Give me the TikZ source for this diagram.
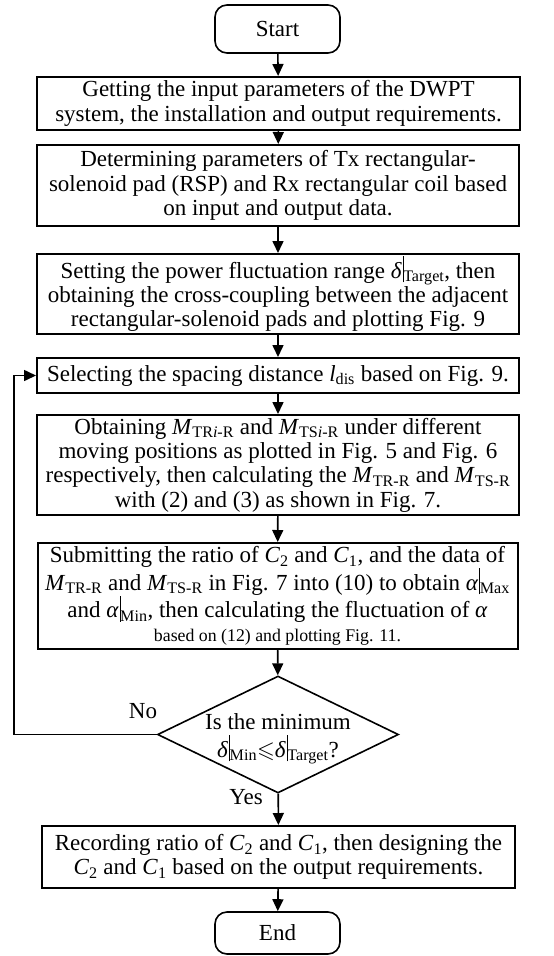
\documentclass[tikz,border=0pt]{standalone}
\usepackage{fontspec}
\setmainfont{Liberation Serif}
\usepackage{amssymb}
\usetikzlibrary{arrows.meta,shapes.geometric}
\newcommand{\Mv}[1]{\textit{M}\textsubscript{#1}}
\newcommand{\Cv}[1]{\textit{C}\textsubscript{#1}}
\newcommand{\vb}[2]{\textit{#1}\kern0.8pt\rule[-0.4ex]{0.7pt}{2.45ex}\textsubscript{#2}}
\begin{document}
\begin{tikzpicture}[x=1pt,y=1pt,
  every node/.style={font=\fontsize{23}{24.3}\selectfont},
  procbox/.style={draw,line width=2pt,align=center,inner sep=0pt},
  termbox/.style={draw,line width=1.6pt,rounded corners=12pt,align=center,inner sep=0pt,minimum width=125pt},
  decbox/.style={draw,line width=1.6pt,diamond,aspect=2.06,inner sep=0pt,minimum width=241pt,minimum height=117pt},
  flow/.style={line width=1.6pt,-{Triangle[length=12pt,width=11pt]}},
  lbl/.style={font=\fontsize{23}{24}\selectfont}]
\useasboundingbox (0,0) rectangle (554,-956);

\node[termbox,minimum height=48pt] (start) at (277.5,-29) {Start};
\node[procbox,minimum width=483pt,minimum height=53pt] (b1) at (278.5,-103.5)
  {Getting the input parameters of the DWPT\\system, the installation and output requirements.};
\node[procbox,minimum width=482pt,minimum height=81pt] (b2) at (278,-185.5)
  {Determining parameters of Tx rectangular-\\solenoid pad (RSP) and Rx rectangular coil based\\on input and output data.};
\node[procbox,minimum width=482pt,minimum height=80pt] (b3) at (278,-294)
  {Setting the power fluctuation range \vb{δ}{Target}, then\\obtaining the cross-coupling between the adjacent\\rectangular-solenoid pads and plotting Fig. 9};
\node[procbox,minimum width=482pt,minimum height=35pt] (b4) at (278,-375.5)
  {Selecting the spacing distance \textit{l}\textsubscript{dis} based on Fig. 9.};
\node[procbox,minimum width=482pt,minimum height=100pt] (b5) at (278,-465)
  {Obtaining \Mv{TR\textit{i}-R} and \Mv{TS\textit{i}-R} under different\\moving positions as plotted in Fig. 5 and Fig. 6\\respectively, then calculating the \Mv{TR-R} and \Mv{TS-R}\\with (2) and (3) as shown in Fig. 7.};
\node[procbox,minimum width=480pt,minimum height=106pt] (b6) at (277.5,-596)
  {Submitting the ratio of \Cv{2} and \Cv{1}, and the data of\\\Mv{TR-R} and \Mv{TS-R} in Fig. 7 into (10) to obtain \vb{α}{Max}\\and \vb{α}{Min}, then calculating the fluctuation of \textit{α}\\{\fontsize{17.8}{24.3}\selectfont based on (12) and plotting Fig. 11.}};
\node[decbox] (dec) at (278,-734.5) {};
\node[align=center,inner sep=0pt] (dectxt) at (278,-739)
  {Is the minimum\\[3pt]\vb{δ}{Min}$\leqslant$\vb{δ}{Target}?};
\node[procbox,minimum width=473pt,minimum height=62pt] (b7) at (278.5,-857)
  {Recording ratio of \Cv{2} and \Cv{1}, then designing the\\\Cv{2} and \Cv{1} based on the output requirements.};
\node[termbox,minimum height=42pt] (end) at (277.5,-933) {End};

\draw[flow] (start) -- (b1);
\draw[flow] (b1) -- (b2);
\draw[flow] (b2) -- (b3);
\draw[flow] (b3) -- (b4);
\draw[flow] (b4) -- (b5);
\draw[flow] (b5) -- (b6);
\draw[flow] (b6) -- (dec);
\draw[flow] (dec) -- (b7);
\draw[flow] (b7) -- (end);
\coordinate (fbl) at (14,-734.5);
\coordinate (fbu) at (14,-375.5);
\draw[flow] (dec.west) -- (fbl) -- (fbu) -- (b4.west);
\node[lbl] (no) at (143,-711) {No};
\node[lbl] (yes) at (246,-797) {Yes};
\end{tikzpicture}
\end{document}
